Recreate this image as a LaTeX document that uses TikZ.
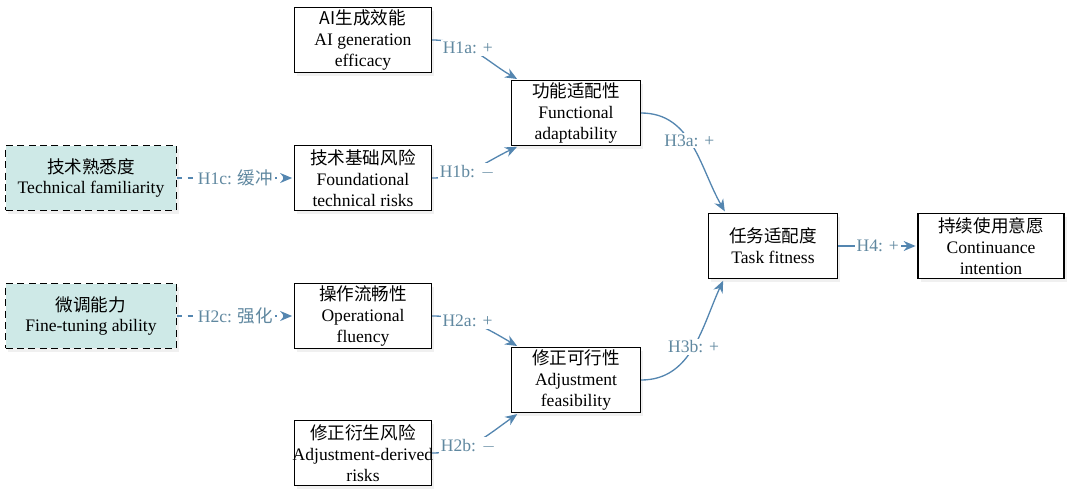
\documentclass[tikz,border=0pt]{standalone}
\usepackage{fontspec}
\setmainfont{Liberation Serif}
\newfontfamily\cjk{Noto Sans CJK SC}
\usetikzlibrary{arrows.meta,shadows}
\definecolor{linkcolor}{RGB}{84,134,176}
\definecolor{lblcolor}{RGB}{96,136,160}
\definecolor{modcolor}{RGB}{206,233,231}
\tikzset{
  varbox/.style={draw, line width=0.7pt, fill=white, minimum width=2.74cm,
    minimum height=1.3cm, align=center, inner sep=1pt,
    font=\fontsize{10}{11.8}\selectfont,
    drop shadow={opacity=0.12, shadow xshift=1.5pt, shadow yshift=-2pt}},
  modbox/.style={varbox, dash pattern=on 4pt off 2.5pt, fill=modcolor,
    minimum width=3.42cm},
  linkln/.style={-{Stealth[length=2.4mm,width=2mm]}, line width=0.75pt,
    linkcolor, shorten >=1pt},
  hypo/.style={fill=white, text=lblcolor, inner sep=1pt,
    font=\fontsize{10}{11}\selectfont},
}

\begin{document}
\begin{tikzpicture}[x=0.02cm, y=-0.02cm]
    \useasboundingbox (0,0) rectangle (1080,504);
    % predictors
    \node[varbox] (gen) at (363,40) {{\cjk AI生成效能}\\AI generation\\efficacy};
    \node[varbox] (risk) at (363,178) {{\cjk 技术基础风险}\\Foundational\\technical risks};
    \node[varbox] (flu) at (363,316) {{\cjk 操作流畅性}\\Operational\\fluency};
    \node[varbox, text width=2.66cm] (drv) at (363,453)
      {{\cjk 修正衍生风险}\\\makebox[\linewidth]{Adjustment-derived}\\risks};
    % moderators
    \node[modbox] (fam) at (91,178) {{\cjk 技术熟悉度}\\Technical familiarity};
    \node[modbox] (tune) at (91,316) {{\cjk 微调能力}\\Fine-tuning ability};
    % mediators and outcome
    \node[varbox, minimum width=2.58cm] (fad) at (576,113) {{\cjk 功能适配性}\\Functional\\adaptability};
    \node[varbox, minimum width=2.58cm] (afe) at (576,380) {{\cjk 修正可行性}\\Adjustment\\feasibility};
    \node[varbox, minimum width=2.58cm] (fit) at (773,246) {{\cjk 任务适配度}\\Task fitness};
    \node[varbox, minimum width=2.92cm] (cont) at (991,246) {{\cjk 持续使用意愿}\\Continuance\\intention};
    % hypotheses
    \draw[linkln] (gen.east) to[out=0, in=150] node[hypo, pos=0.38] {H1a: +} (fad.150);
    \draw[linkln] (risk.east) to[out=0, in=205] node[hypo, pos=0.38] {H1b: $-$} (fad.210);
    \draw[linkln, dashed] (fam) -- node[hypo] {H1c: {\cjk 缓冲}} (risk);
    \draw[linkln] (flu.east) to[out=0, in=150] node[hypo, pos=0.38] {H2a: +} (afe.150);
    \draw[linkln] (drv.east) to[out=0, in=215] node[hypo, pos=0.38] {H2b: $-$} (afe.210);
    \draw[linkln, dashed] (tune) -- node[hypo] {H2c: {\cjk 强化}} (flu);
    \draw[linkln] (fad.east) to[out=0, in=120] node[hypo, pos=0.45] {H3a: +} (fit.145);
    \draw[linkln] (afe.east) to[out=0, in=245] node[hypo, pos=0.5] {H3b: +} (fit.214);
    \draw[linkln] (fit) -- node[hypo] {H4: +} (cont);
\end{tikzpicture}
\end{document}
